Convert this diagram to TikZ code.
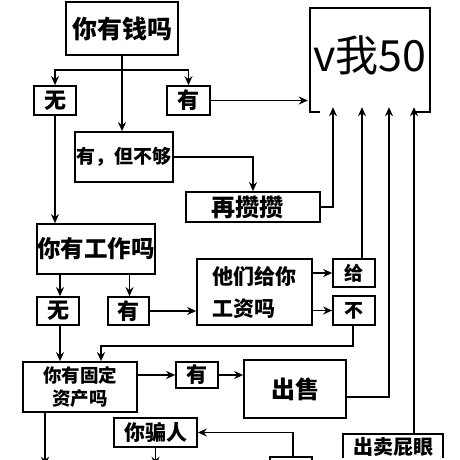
\documentclass[tikz,border=0pt]{standalone}
\usepackage{fontspec}
\newfontfamily\cjk{Noto Sans CJK SC}
\usetikzlibrary{arrows.meta}
\newcommand{\fs}[1]{\fontsize{#1}{#1}\selectfont}
\tikzset{
  bx/.style={draw, line width=1.7pt, inner sep=0pt, font=\cjk\bfseries},
  ln/.style={line width=1.5pt},
  arr/.style={line width=1.5pt, -{Stealth[length=9pt,width=8pt]}},
}
\begin{document}
\begin{tikzpicture}[x=1pt,y=-1pt]
\useasboundingbox (0,0) rectangle (460,460);
\fill[white] (0,0) rectangle (460,460);
\clip (0,0) rectangle (460,460);

% nodes
\node[bx, minimum width=112, minimum height=53, font=\cjk\bfseries\fs{25}] (q1) at (122,28.5) {你有钱吗};
\node[bx, minimum width=42, minimum height=29, font=\cjk\bfseries\fs{22}] (no1) at (55,100.5) {无};
\node[bx, minimum width=43, minimum height=29, font=\cjk\bfseries\fs{22}] (yes1) at (188.5,100.5) {有};
\node[minimum width=120, minimum height=104, inner sep=0pt] (v50) at (370,60) {};
\node[font=\cjk\fs{43}] (v50t) at (370,55) {v我50};
\node[bx, minimum width=98, minimum height=50, font=\cjk\bfseries\fs{19}] (enough) at (124,157) {有，但不够};
\node[bx, minimum width=134, minimum height=30, font=\cjk\bfseries\fs{24}] (save) at (253,207) {\hspace*{-12pt}再攒攒};
\node[bx, minimum width=118, minimum height=50, font=\cjk\bfseries\fs{23.5}] (q2) at (96,249) {你有工作吗};
\node[bx, minimum width=42, minimum height=28, font=\cjk\bfseries\fs{22}] (no2) at (58,311) {无};
\node[bx, minimum width=41, minimum height=28, font=\cjk\bfseries\fs{22}] (yes2) at (128.5,311) {有};
\node[bx, minimum width=115, minimum height=66, align=left, font=\cjk\bfseries\fontsize{21}{32}\selectfont] (pay) at (254.5,292) {他们给你\\工资吗};
\node[bx, minimum width=42, minimum height=28, font=\cjk\bfseries\fs{19}] (give) at (354,273) {给};
\node[bx, minimum width=42, minimum height=29, font=\cjk\bfseries\fs{19}] (not) at (354,310.5) {不};
\node[bx, minimum width=114, minimum height=50, align=center, font=\cjk\bfseries\fontsize{18.5}{23}\selectfont] (q3) at (80,387) {你有固定\\资产吗};
\node[bx, minimum width=42, minimum height=26, font=\cjk\bfseries\fs{21}] (yes3) at (197,375) {有};
\node[bx, minimum width=102, minimum height=58, font=\cjk\bfseries\fs{24}] (sell) at (295,389) {出售};
\node[bx, minimum width=83, minimum height=29, font=\cjk\bfseries\fs{21}] (lie) at (155.5,432.5) {你骗人};
\node[inner sep=0pt, minimum width=100, minimum height=26, font=\cjk\bfseries\fs{20}] (butt) at (393,447) {出卖屁眼};
\node[bx, minimum width=42, minimum height=34] (bot) at (291,474) {};

% v50 box outline (bottom edge partly open)
\draw[line width=1.7pt] ([xshift=10]v50.south west) -- (v50.south west) -- (v50.north west) -- (v50.north east) -- (v50.south east) -- ([xshift=-17]v50.south east);
% bottom-right box, cut by the lower edge
\draw[line width=1.7pt] ([yshift=2]butt.south west) -- (butt.north west) -- (butt.north east) -- ([yshift=2]butt.south east);

% connectors
\coordinate (b1) at (122,70);
\draw[ln] (q1.south) -- (b1);
\draw[arr] (b1) -| (no1.north);
\draw[arr] (b1) -| (yes1.north);
\draw[arr] (b1) -- (b1 |- enough.north);
\draw[arr] (yes1.east) -- ([xshift=-2]yes1.east -| v50.west);
\draw[arr] (enough.east) -| (save.north);
\coordinate (in1) at ([xshift=-37,yshift=5]v50.south);
\coordinate (in2) at ([xshift=-8,yshift=5]v50.south);
\coordinate (in3) at ([xshift=19,yshift=5]v50.south);
\coordinate (in4) at ([xshift=44,yshift=5]v50.south);
\draw[arr] (save.east) -| (in1);
\draw[arr] (no1.south) -- (no1.south |- q2.north);
\draw[arr] ([xshift=2]q2.south -| no2) -- ([xshift=2]no2.north);
\draw[arr] ([xshift=1]q2.south -| yes2) -- ([xshift=1]yes2.north);
\draw[arr] (yes2.east) -- (yes2.east -| pay.west);
\draw[arr] (pay.east |- give) -- (give.west);
\draw[arr] (pay.east |- not) -- (not.west);
\draw[arr] ([xshift=8]give.north) -- (in2);
\draw[arr] ([xshift=-1]not.south) -- ++(0,20) -| ([xshift=21]q3.north);
\draw[arr] ([xshift=2]no2.south) -- ([xshift=2]no2.south |- q3.north);
\draw[arr] (q3.east |- yes3) -- (yes3.west);
\draw[arr] (yes3.east) -- (yes3.east -| sell.west);
\draw[arr] ([yshift=-8]sell.east) -| (in3);
\draw[arr] ([xshift=21]butt.north) -- (in4);
\draw[arr] ([xshift=2]bot.north) |- (lie.east);
\draw[arr] (lie.south) -- ++(0,18);
\draw[arr] ([xshift=-35]q3.south) -- ++(0,53);
\end{tikzpicture}
\end{document}
